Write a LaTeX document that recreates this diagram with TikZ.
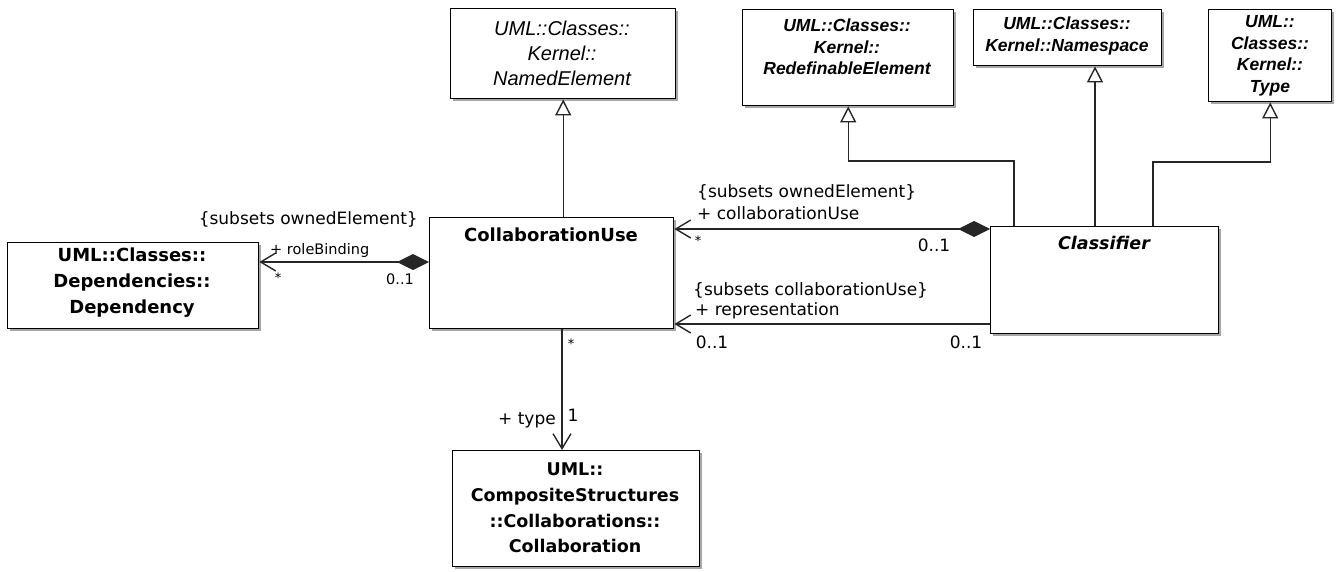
\documentclass[tikz,border=0pt]{standalone}
\usepackage{fontspec}
\setmainfont{DejaVu Sans}
\newfontfamily\arl{Liberation Sans}
\usetikzlibrary{arrows.meta,shadows}
\begin{document}
\begin{tikzpicture}[x=1pt,y=-1pt,
  box/.style={draw=black,line width=1.4pt,fill=white,inner sep=0pt,anchor=north west,
    drop shadow={shadow xshift=2pt,shadow yshift=-2pt,fill=black,opacity=0.35}},
  conn/.style={draw=black!85,line width=1.4pt},
  gen/.style={conn,-{Triangle[open,length=16pt,width=16pt]}},
  nav/.style={conn,-{Straight Barb[length=15pt,width=18pt]}},
  comp/.style={conn,{Diamond[length=32pt,width=16pt]}-{Straight Barb[length=15pt,width=18pt]}},
  ttl/.style={inner sep=0pt,align=center,font=\fontsize{18}{26}\bfseries\selectfont},
  ttlsm/.style={inner sep=0pt,align=center,font=\arl\fontsize{17.5}{21.5}\bfseries\itshape\selectfont},
  lab/.style={inner sep=0pt,font=\fontsize{17}{20}\selectfont},
  labsm/.style={inner sep=0pt,font=\fontsize{14.5}{16}\selectfont},
  star/.style={inner sep=0pt,font=\fontsize{13}{14}\selectfont}]
\useasboundingbox (0,0) rectangle (1343,571);
% boxes
\node[box,minimum width=225pt,minimum height=90pt] (ne) at (450,8) {};
\node[box,minimum width=211pt,minimum height=96pt] (re) at (742,9) {};
\node[box,minimum width=188pt,minimum height=56pt] (ns) at (973,9) {};
\node[box,minimum width=123pt,minimum height=92pt] (ty) at (1208,9) {};
\node[box,minimum width=244pt,minimum height=111pt] (cu) at (429,217) {};
\node[box,minimum width=228pt,minimum height=107pt] (cl) at (990,226) {};
\node[box,minimum width=251pt,minimum height=86pt] (dep) at (7,242) {};
\node[box,minimum width=247pt,minimum height=116pt] (col) at (452,450) {};
% titles
\node[inner sep=0pt,align=center,font=\arl\fontsize{20}{25}\itshape\selectfont] (ne-t) at (562,53) {UML::Classes::\\Kernel::\\NamedElement};
\node[ttlsm] (re-t) at (847,47) {UML::Classes::\\Kernel::\\RedefinableElement};
\node[ttlsm] (ns-t) at (1067,36) {UML::Classes::\\Kernel::Namespace};
\node[ttlsm] (ty-t) at (1270,56) {UML::\\Classes::\\Kernel::\\Type};
\node[ttl] (cu-t) at (551,235) {CollaborationUse};
\node[ttl,font=\fontsize{17.5}{26}\bfseries\itshape\selectfont] (cl-t) at (1104,243) {Classifier};
\node[ttl] (dep-t) at (132,283) {UML::Classes::\\Dependencies::\\Dependency};
\node[ttl,font=\fontsize{17.5}{25.7}\bfseries\selectfont] (col-t) at (575,508) {UML::\\CompositeStructures\\::Collaborations::\\Collaboration};
% generalizations
\draw[gen] (ne.south |- cu.north) -- (ne.south);
\draw[gen] (cl.north -| 1014,0) |- (re.south |- 0,161) -- (re.south);
\draw[gen] (cl.north -| 1095,0) -- (ns.south -| 1095,0);
\draw[gen] (cl.north -| 1153,0) |- (ty.south |- 0,162) -- (ty.south);
% associations
\draw[comp] (cu.west |- 0,262) -- (dep.east |- 0,262);
\draw[comp] (cl.west |- 0,229) -- (cu.east |- 0,229);
\draw[nav] (cl.west |- 0,324) -- (cu.east |- 0,324);
\draw[nav] (cu.south -| 562,0) -- (col.north -| 562,0);
% labels
\node[lab,anchor=east] (l1) at (418,219) {\{subsets ownedElement\}};
\node[labsm,anchor=west] (l2) at (270,250) {+ roleBinding};
\node[star] (l3) at (278,278) {*};
\node[labsm] (l4) at (400,279) {0..1};
\node[lab,anchor=west] (l5) at (697,192) {\{subsets ownedElement\}};
\node[lab,anchor=west] (l6) at (697,213) {+ collaborationUse};
\node[star] (l7) at (698,241) {*};
\node[lab] (l8) at (934,245) {0..1};
\node[lab,anchor=west] (l9) at (693,290) {\{subsets collaborationUse\}};
\node[lab,anchor=west] (l10) at (695,311) {+ representation};
\node[lab] (l11) at (712,342) {0..1};
\node[lab] (l12) at (966,342) {0..1};
\node[star] (l13) at (571,344) {*};
\node[lab,anchor=east] (l14) at (556,420) {+ type};
\node[lab] (l15) at (573,415) {1};
\end{tikzpicture}
\end{document}
